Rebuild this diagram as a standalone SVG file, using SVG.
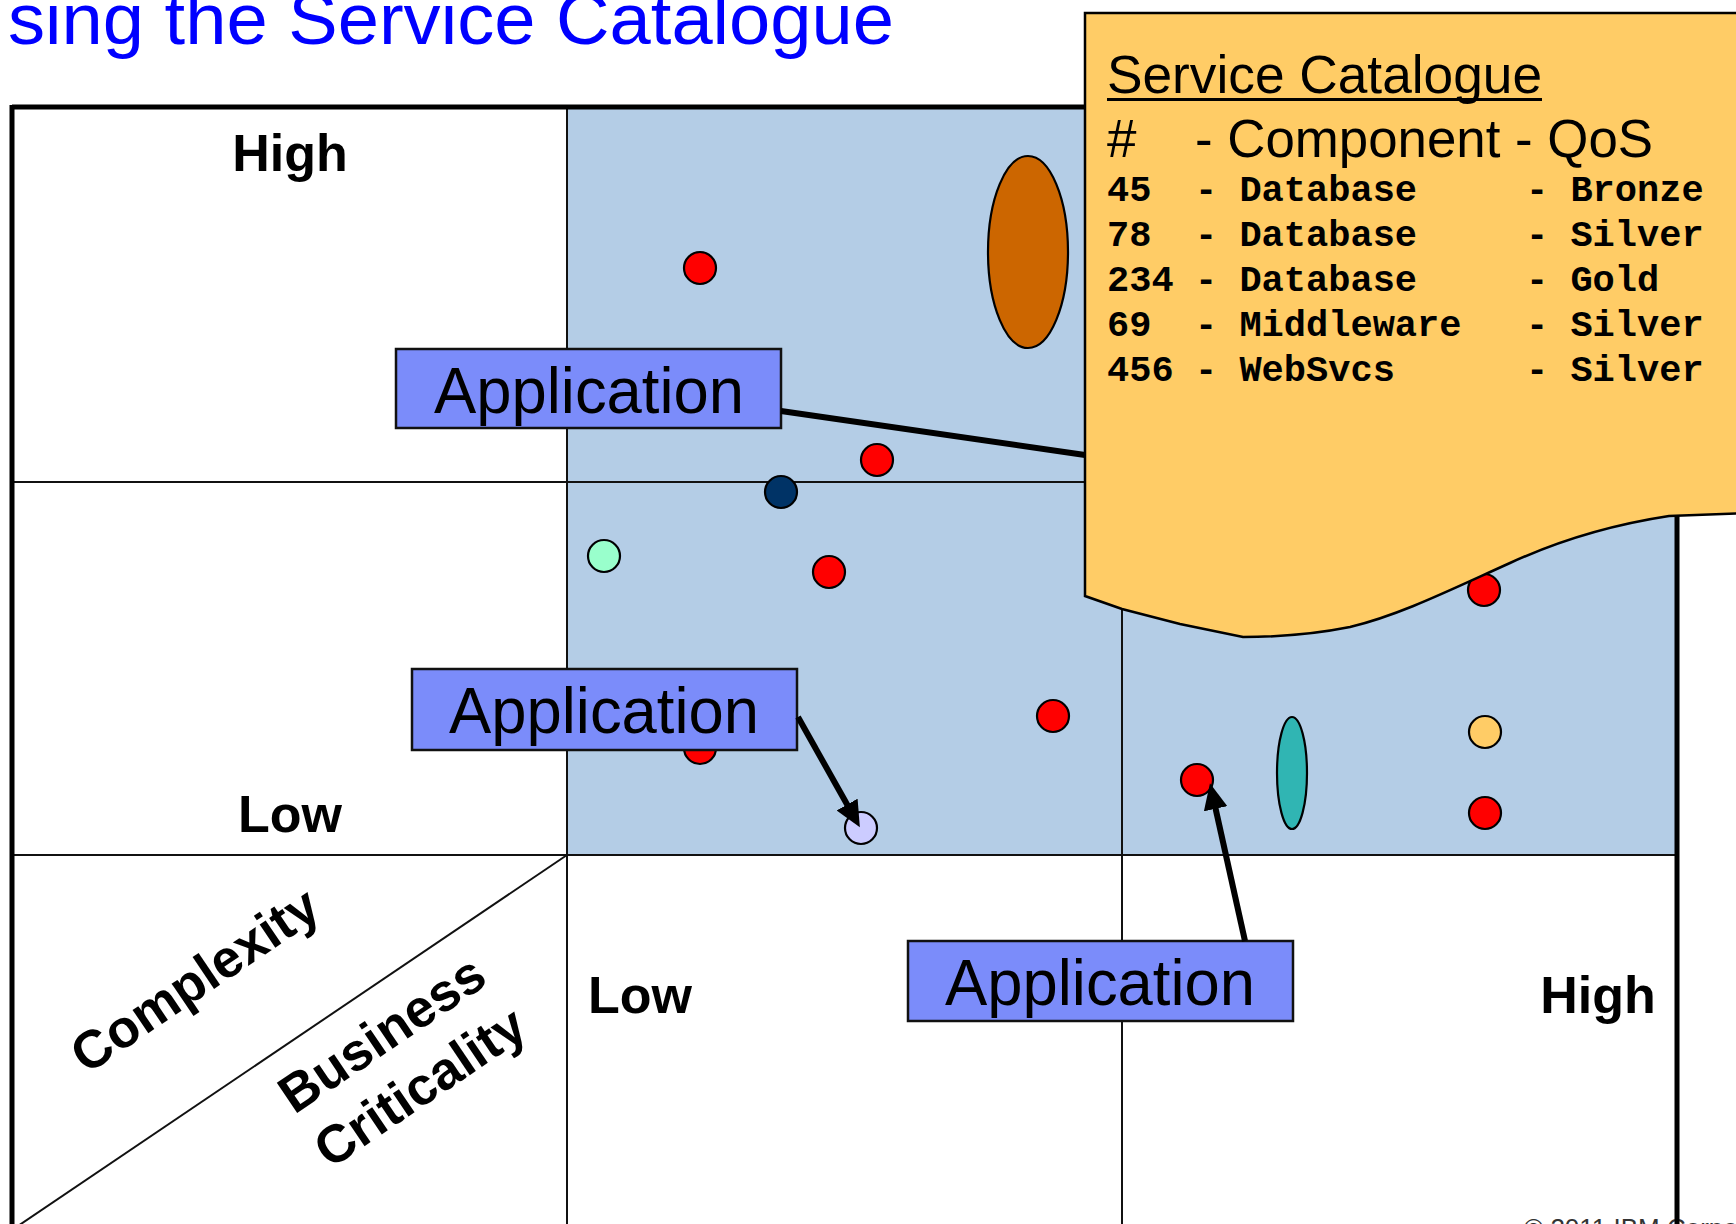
<svg xmlns="http://www.w3.org/2000/svg" width="1736" height="1224" viewBox="0 0 1736 1224">
  <defs>
    <style>
      .grid { stroke: #111; stroke-width: 2; fill: none; }
      .frame { stroke: #000; stroke-width: 5; fill: none; }
      .axis { font-family: "Liberation Sans", Arial, sans-serif; font-weight: bold; font-size: 52px; fill: #000; }
      .diag { font-family: "Liberation Sans", Arial, sans-serif; font-weight: bold; font-size: 53px; fill: #000; text-anchor: middle; }
      .dot { stroke: #000; stroke-width: 2.2; }
      .red { fill: #FF0000; }
      .appbox { fill: #7B8CFA; stroke: #111; stroke-width: 2.5; }
      .apptext { font-family: "Liberation Sans", Arial, sans-serif; font-size: 64px; fill: #000; text-anchor: middle; }
      .cat-h { font-family: "Liberation Sans", Arial, sans-serif; font-size: 53px; fill: #000; }
      .mono { font-family: "Liberation Mono", "Courier New", monospace; font-weight: bold; font-size: 37px; fill: #000; }
      .conn { stroke: #000; stroke-width: 6; fill: none; }
    </style>
    <marker id="arrow" markerUnits="userSpaceOnUse" markerWidth="28" markerHeight="24" refX="12" refY="12" orient="auto">
      <path d="M0,0 L26,12 L0,24 Z" fill="#000"/>
    </marker>
  </defs>

  <rect x="0" y="0" width="1736" height="1224" fill="#FFFFFF"/>

  <text id="title" x="8" y="44" font-family="'Liberation Sans', Arial, sans-serif" font-size="72" fill="#0000FF" textLength="886" lengthAdjust="spacingAndGlyphs">sing the Service Catalogue</text>

  <text id="copyright" x="1524" y="1237" font-family="'Liberation Sans', Arial, sans-serif" font-size="26" fill="#333333">© 2011 IBM Corporation</text>

  <g id="grid">
    <rect x="567" y="107" width="1110" height="748" fill="#B4CDE6"/>
    <line class="grid" x1="567" y1="107" x2="567" y2="1230"/>
    <line class="grid" x1="1122" y1="107" x2="1122" y2="1230"/>
    <line class="grid" x1="12" y1="482" x2="1677" y2="482"/>
    <line class="grid" x1="12" y1="855" x2="1677" y2="855"/>
    <line class="grid" x1="567" y1="855" x2="12" y2="1230"/>
    <line class="frame" x1="12" y1="107" x2="1100" y2="107"/>
    <line class="frame" x1="12" y1="105" x2="12" y2="1230"/>
    <line class="frame" x1="1677" y1="500" x2="1677" y2="1230"/>
  </g>

  <g id="axis-labels">
    <text class="axis" x="290" y="171" text-anchor="middle">High</text>
    <text class="axis" x="290" y="832" text-anchor="middle">Low</text>
    <text class="axis" x="640" y="1013" text-anchor="middle">Low</text>
    <text class="axis" x="1598" y="1013" text-anchor="middle">High</text>
    <text class="diag" transform="translate(205,995) rotate(-34)">Complexity</text>
    <text class="diag" transform="translate(392,1049) rotate(-34)">Business</text>
    <text class="diag" transform="translate(430,1102) rotate(-34)">Criticality</text>
  </g>

  <g id="components">
    <circle id="c1" class="dot red" cx="700" cy="268" r="16"/>
    <ellipse id="c2" class="dot" cx="1028" cy="252" rx="40" ry="96" fill="#CC6600"/>
    <circle id="c3" class="dot red" cx="877" cy="460" r="16"/>
    <circle id="c4" class="dot" cx="781" cy="492" r="16" fill="#003366"/>
    <circle id="c5" class="dot" cx="604" cy="556" r="16" fill="#99FFCC"/>
    <circle id="c6" class="dot red" cx="829" cy="572" r="16"/>
    <circle id="c7" class="dot red" cx="700" cy="748" r="16"/>
    <circle id="c8" class="dot" cx="861" cy="828" r="16" fill="#CCCCFF"/>
    <circle id="c9" class="dot red" cx="1053" cy="716" r="16"/>
    <circle id="c10" class="dot red" cx="1197" cy="780" r="16"/>
    <ellipse id="c11" class="dot" cx="1292" cy="773" rx="15" ry="56" fill="#30B5B3"/>
    <circle id="c12" class="dot" cx="1485" cy="732" r="16" fill="#FFCC66"/>
    <circle id="c13" class="dot red" cx="1485" cy="813" r="16"/>
    <circle id="c14" class="dot red" cx="1484" cy="590" r="16"/>
  </g>

  <g id="catalogue">
    <path d="M1085,13 H1750 V513 L1669,516 C1610,525 1560,540 1510,563 C1450,590 1400,615 1350,627 C1310,635 1275,637 1243,637 L1180,624 L1122,609 L1085,596 Z" fill="#FFCC66" stroke="#000" stroke-width="2.5"/>
    <text class="cat-h" x="1107" y="93" textLength="435" lengthAdjust="spacingAndGlyphs">Service Catalogue</text>
    <line x1="1107" y1="99.5" x2="1542" y2="99.5" stroke="#000" stroke-width="3"/>
    <text class="cat-h" x="1107" y="157">#</text>
    <text class="cat-h" x="1195" y="157" textLength="458" lengthAdjust="spacingAndGlyphs">- Component - QoS</text>
    <text class="mono" y="201"><tspan x="1107">45</tspan><tspan x="1195">- Database</tspan><tspan x="1526">- Bronze</tspan></text>
    <text class="mono" y="246"><tspan x="1107">78</tspan><tspan x="1195">- Database</tspan><tspan x="1526">- Silver</tspan></text>
    <text class="mono" y="291"><tspan x="1107">234</tspan><tspan x="1195">- Database</tspan><tspan x="1526">- Gold</tspan></text>
    <text class="mono" y="336"><tspan x="1107">69</tspan><tspan x="1195">- Middleware</tspan><tspan x="1526">- Silver</tspan></text>
    <text class="mono" y="381"><tspan x="1107">456</tspan><tspan x="1195">- WebSvcs</tspan><tspan x="1526">- Silver</tspan></text>
  </g>

  <g id="app1">
    <rect class="appbox" x="396" y="349" width="385" height="79"/>
    <text class="apptext" x="589" y="413" textLength="310" lengthAdjust="spacingAndGlyphs">Application</text>
  </g>
  <g id="app2">
    <rect class="appbox" x="412" y="669" width="385" height="81"/>
    <text class="apptext" x="604" y="733" textLength="310" lengthAdjust="spacingAndGlyphs">Application</text>
  </g>
  <g id="app3">
    <rect class="appbox" x="908" y="941" width="385" height="80"/>
    <text class="apptext" x="1100" y="1005" textLength="310" lengthAdjust="spacingAndGlyphs">Application</text>
  </g>

  <g id="connectors">
    <line class="conn" x1="781" y1="411" x2="1085" y2="455"/>
    <line class="conn" x1="798" y1="717" x2="853" y2="815" marker-end="url(#arrow)"/>
    <line class="conn" x1="1245" y1="941" x2="1213" y2="797" marker-end="url(#arrow)"/>
  </g>
</svg>
